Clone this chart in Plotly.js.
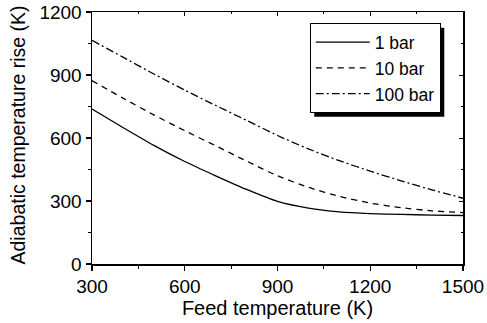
<!DOCTYPE html>
<html>
<head>
<meta charset="utf-8">
<script src="https://cdn.plot.ly/plotly-3.0.1.min.js"></script>
<style>html,body{margin:0;padding:0;background:#fff;}#chart{width:487px;height:323px;}</style>
</head>
<body>
<div id="chart"></div>
<script>
// Feed temperature (K)
const feedT = [300, 400, 500, 600, 700, 800, 900, 1000, 1100, 1200, 1300, 1400, 1500];
// Adiabatic temperature rise (K)
const rise1bar   = [738, 650, 565, 488, 420, 355, 298, 266, 248, 240, 236, 233, 231];
const rise10bar  = [873, 790, 710, 635, 563, 490, 420, 365, 322, 290, 268, 253, 245];
const rise100bar = [1065, 985, 905, 828, 755, 684, 612, 548, 492, 442, 396, 353, 313];
const seriesNames = ["1 bar", "10 bar", "100 bar"];
const xTitle = "Feed temperature (K)";
const yTitle = "Adiabatic temperature rise (K)";

const FONT = "Liberation Sans, Arial, sans-serif";
const FS = 19;
const TFS = 20;

function lineStyle(dash) {
  return {color: "#000", width: 1.3, dash: dash, shape: "spline", smoothing: 0.6};
}

const traces = [
  {x: feedT, y: rise1bar, name: seriesNames[0], mode: "lines", line: lineStyle("solid")},
  {x: feedT, y: rise10bar, name: seriesNames[1], mode: "lines", line: lineStyle("6px,5px")},
  {x: feedT, y: rise100bar, name: seriesNames[2], mode: "lines", line: lineStyle("8px,3px,2px,3px")},
  {x: [], y: [], xaxis: "x2", yaxis: "y2", showlegend: false, hoverinfo: "skip"}
];

const layout = {
  width: 487, height: 323,
  margin: {l: 92, r: 24, t: 12, b: 59},
  paper_bgcolor: "#fff", plot_bgcolor: "#fff",
  font: {family: FONT, size: FS, color: "#000"},
  showlegend: true,
  legend: {
    x: 0.587, y: 0.955, xanchor: "left", yanchor: "top",
    bgcolor: "#fff", bordercolor: "#000", borderwidth: 1,
    font: {family: FONT, size: 17.5, color: "#000"},
    tracegroupgap: 0, itemwidth: 54
  },
  xaxis: {
    range: [300, 1500], tickvals: [300, 600, 900, 1200, 1500],
    ticks: "outside", ticklen: 5, tickwidth: 1.2, tickcolor: "#000",
    minor: {dtick: 150, tick0: 300, ticks: "outside", ticklen: 3, tickwidth: 1, tickcolor: "#000"},
    showline: true, linecolor: "#000", linewidth: 1.5, mirror: true,
    showgrid: false, zeroline: false,
    tickfont: {family: FONT, size: FS},
    title: {text: xTitle, font: {family: FONT, size: TFS}, standoff: 4}
  },
  yaxis: {
    range: [0, 1200], tickvals: [0, 300, 600, 900, 1200],
    ticks: "outside", ticklen: 5, tickwidth: 1.2, tickcolor: "#000",
    minor: {dtick: 150, tick0: 0, ticks: "outside", ticklen: 3, tickwidth: 1, tickcolor: "#000"},
    showline: true, linecolor: "#000", linewidth: 1.5, mirror: true,
    showgrid: false, zeroline: false,
    tickfont: {family: FONT, size: FS}
  },
  xaxis2: {
    overlaying: "x", side: "top", anchor: "y2", range: [300, 1500],
    tickvals: [300, 600, 900, 1200, 1500], showticklabels: false,
    ticks: "inside", ticklen: 4, tickwidth: 1, tickcolor: "#000",
    minor: {dtick: 150, tick0: 300, ticks: "inside", ticklen: 2, tickcolor: "#000"},
    showline: false, showgrid: false, zeroline: false
  },
  yaxis2: {
    overlaying: "y", side: "right", anchor: "x2", range: [0, 1200],
    tickvals: [0, 300, 600, 900, 1200], showticklabels: false,
    ticks: "inside", ticklen: 4, tickwidth: 1, tickcolor: "#000",
    minor: {dtick: 150, tick0: 0, ticks: "inside", ticklen: 2, tickcolor: "#000"},
    showline: false, showgrid: false, zeroline: false
  },
  annotations: [{
    text: yTitle, xref: "paper", yref: "paper", x: 0, y: 0.51,
    xanchor: "center", yanchor: "middle", xshift: -74, textangle: -90,
    showarrow: false, font: {family: FONT, size: 19.5, color: "#000"}
  }],
  shapes: []
};

Plotly.newPlot("chart", traces, layout, {displayModeBar: false, staticPlot: true}).then(gd => {
  // drop shadow behind the legend box, drawn as a paper-referenced shape
  const bg = gd.querySelector("g.legend rect.bg");
  if (!bg) return;
  const r = bg.getBoundingClientRect();
  const fl = gd._fullLayout;
  const L = fl.margin.l, T = fl.margin.t;
  const W = fl.width - fl.margin.l - fl.margin.r;
  const H = fl.height - fl.margin.t - fl.margin.b;
  const off = 4;
  const toX = px => (px - L) / W;
  const toY = py => 1 - (py - T) / H;
  return Plotly.relayout(gd, {shapes: [{
    type: "rect", xref: "paper", yref: "paper", layer: "above",
    x0: toX(r.left + off), x1: toX(r.right + off),
    y0: toY(r.bottom + off), y1: toY(r.top + off),
    fillcolor: "#000", line: {width: 0}
  }]});
});
</script>
</body>
</html>
